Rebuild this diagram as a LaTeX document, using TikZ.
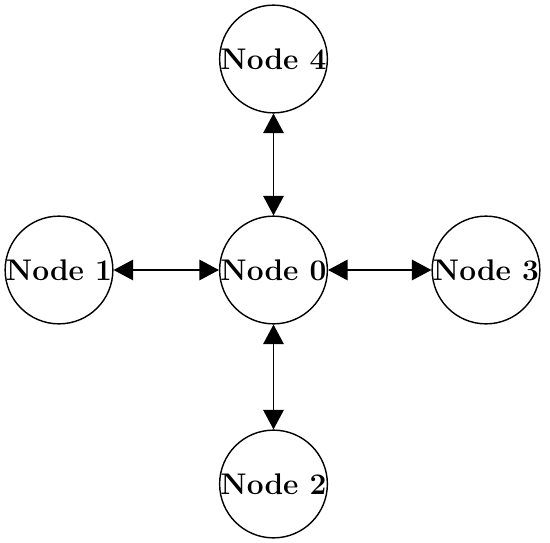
\documentclass[tikz,border=0pt]{standalone}
\usepackage{tikz}
\usetikzlibrary{arrows.meta, positioning}

\begin{document}
\begin{tikzpicture}[
  >={Triangle[length=3.9mm, width=4.1mm]},
  every node/.style={font=\fontsize{17}{20}\selectfont\bfseries},
  peer/.style={draw, circle, line width=0.8pt, minimum size=2.14cm, inner sep=0pt},
  link/.style={<->, line width=0.8pt}
]
\useasboundingbox (0,0) rectangle (11,-10.86);
\node[peer] (n0) at (5.47,-5.40) {Node 0};
\node[peer] (n1) at (1.18,-5.40) {Node 1};
\node[peer] (n3) at (9.72,-5.40) {Node 3};
\node[peer] (n4) at (5.47,-1.18) {Node 4};
\node[peer] (n2) at (5.47,-9.68) {Node 2};
\draw[link] (n1) -- (n0);
\draw[link] (n0) -- (n3);
\draw[link] (n4) -- (n0);
\draw[link] (n0) -- (n2);
\end{tikzpicture}
\end{document}
